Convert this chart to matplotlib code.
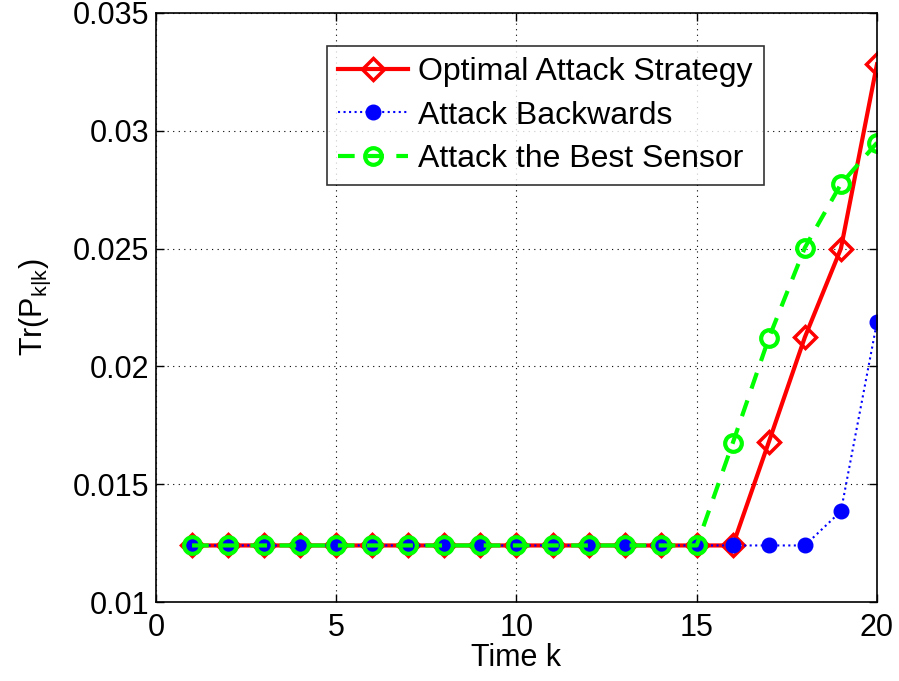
import matplotlib
matplotlib.use('agg')
import matplotlib.pyplot as plt

plt.rcParams['font.family'] = ['Liberation Sans', 'DejaVu Sans']
plt.rcParams['mathtext.fontset'] = 'custom'
plt.rcParams['mathtext.rm'] = 'Liberation Sans'
plt.rcParams['mathtext.it'] = 'Liberation Sans'

k = list(range(1, 21))
base = 0.0124
optimal = [base] * 16 + [0.01679, 0.02124, 0.0250, 0.03282]
backwards = [base] * 18 + [0.01385, 0.02188]
best_sensor = [base] * 15 + [0.01675, 0.0212, 0.02504, 0.02774, 0.02949]

fig = plt.figure(figsize=(8.99, 6.81), dpi=100)
ax = fig.add_axes([0.1735, 0.116, 0.802, 0.865])

ax.plot(k, optimal, color='red', linestyle='-', linewidth=3, marker='D',
        markersize=11, markerfacecolor='none', markeredgecolor='red',
        markeredgewidth=2.5, label='Optimal Attack Strategy')
ax.plot(k, backwards, color='blue', linestyle=':', linewidth=1.5, marker='o',
        markersize=10.5, markerfacecolor='blue', markeredgecolor='blue',
        label='Attack Backwards')
ax.plot(k, best_sensor, color='#00ff00', linestyle=(0, (4, 3)), linewidth=3,
        marker='o', markersize=12, markerfacecolor='none',
        markeredgecolor='#00ff00', markeredgewidth=3,
        label='Attack the Best Sensor')

ax.set_xlim(0, 20)
ax.set_ylim(0.01, 0.035)
ax.set_xticks([0, 5, 10, 15, 20])
ax.set_yticks([0.01, 0.015, 0.02, 0.025, 0.03, 0.035])
ax.set_yticklabels(['0.01', '0.015', '0.02', '0.025', '0.03', '0.035'])
ax.tick_params(direction='in', labelsize=22, length=6, width=1,
               top=True, right=True)
ax.tick_params(axis='x', pad=8)
ax.tick_params(axis='y', pad=5)
ax.grid(True, color='black', linestyle=(0, (1, 4)), linewidth=0.8)
for s in ax.spines.values():
    s.set_linewidth(1.2)

ax.set_xlabel('Time k', fontsize=22, labelpad=0)
ax.set_ylabel(r'Tr(P$_{\mathrm{k|k}}$)', fontsize=22, labelpad=14)

leg = ax.legend(loc='upper left', bbox_to_anchor=(0.237, 0.944), fontsize=23,
                frameon=True, fancybox=False, edgecolor='black',
                handlelength=2.2, borderpad=0.35, labelspacing=0.42,
                handletextpad=0.3, borderaxespad=0)
leg.get_frame().set_linewidth(1.2)

fig.savefig('out.png', dpi=100)
